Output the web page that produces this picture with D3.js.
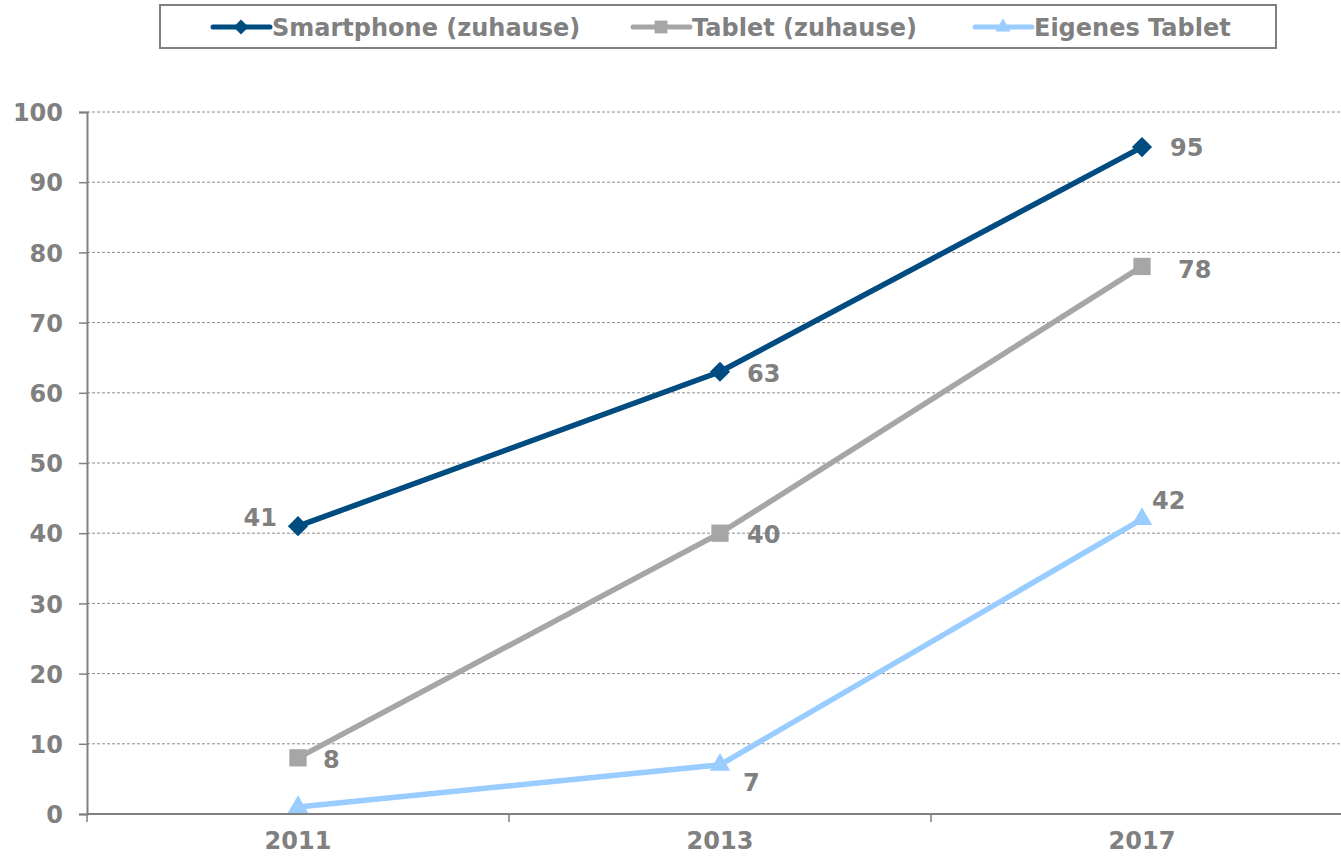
<!DOCTYPE html>
<html>
<head>
<meta charset="utf-8">
<script src="https://cdn.jsdelivr.net/npm/d3@7"></script>
<style>
  body { margin: 0; background: #fff; }
  svg { display: block; font-family: "DejaVu Sans", Verdana, sans-serif; font-weight: bold; }
</style>
</head>
<body>
<div id="chart"></div>
<script>
const years = ["2011", "2013", "2017"];
const smartphone = [41, 63, 95];
const tablet = [8, 40, 78];
const ownTablet = [1, 7, 42];
const yTicks = [0, 10, 20, 30, 40, 50, 60, 70, 80, 90, 100];
const seriesNames = ["Smartphone (zuhause)", "Tablet (zuhause)", "Eigenes Tablet"];

// which point labels are shown (the 2011 value of "Eigenes Tablet" has none)
const showLabel = [[true, true, true], [true, true, true], [false, true, true]];
// label offsets from the point [dx, dy, anchor]
const labelOffsets = [
    [[-21, 0, "end"], [27, 10, "start"], [28, 9, "start"]],
    [[25, 10, "start"], [27, 10, "start"], [36, 12, "start"]],
    [[0, 0, "start"], [23, 26, "start"], [10, -10, "start"]]
];

const width = 1341;
const height = 858;
const grey = "#808080";
const fontSize = "24px";

const series = [
    { name: seriesNames[0], values: smartphone, color: "#004B7F", symbol: d3.symbolDiamond2, size: 260, legendX: 213 },
    { name: seriesNames[1], values: tablet, color: "#A6A6A6", symbol: d3.symbolSquare2, size: 380, legendX: 633 },
    { name: seriesNames[2], values: ownTablet, color: "#99CCFF", symbol: d3.symbolTriangle2, size: 300, legendX: 975 }
];

const svg = d3.select("#chart")
    .append("svg")
    .attr("width", width)
    .attr("height", height);

const x = d3.scaleBand()
    .domain(years)
    .range([87, 1353]);

const y = d3.scaleLinear()
    .domain([0, 100])
    .range([814, 112]);

// gridlines
svg.append("g")
    .selectAll("line")
    .data(yTicks.filter(d => d > 0))
    .join("line")
    .attr("x1", 87)
    .attr("x2", width)
    .attr("y1", d => y(d))
    .attr("y2", d => y(d))
    .attr("stroke", "#8c8c8c")
    .attr("stroke-width", 1)
    .attr("stroke-dasharray", "3,2");

// y axis
const yAxis = svg.append("g")
    .attr("transform", "translate(87,0)")
    .call(d3.axisLeft(y).tickValues(yTicks).tickSize(8).tickPadding(16));
yAxis.select(".domain").attr("stroke", grey).attr("stroke-width", 2);
yAxis.selectAll(".tick line").attr("stroke", grey).attr("stroke-width", 1.5);
yAxis.selectAll(".tick text")
    .attr("fill", grey)
    .attr("font-size", fontSize)
    .attr("font-family", "DejaVu Sans")
    .attr("font-weight", "bold")
    .attr("dy", "0.36em");

// x axis
const xAxis = svg.append("g")
    .attr("transform", `translate(0,${y(0)})`)
    .call(d3.axisBottom(x).tickSize(0).tickPadding(17));
xAxis.select(".domain").remove();
xAxis.append("line")
    .attr("x1", 87)
    .attr("x2", width)
    .attr("stroke", grey)
    .attr("stroke-width", 2);
xAxis.selectAll(".tick text")
    .attr("fill", grey)
    .attr("font-size", fontSize)
    .attr("font-family", "DejaVu Sans")
    .attr("font-weight", "bold")
    .attr("dy", "0.75em");
// tick marks at band boundaries
xAxis.selectAll(".bound")
    .data(years)
    .join("line")
    .attr("class", "bound")
    .attr("x1", d => x(d))
    .attr("x2", d => x(d))
    .attr("y1", 0)
    .attr("y2", 8)
    .attr("stroke", grey)
    .attr("stroke-width", 1.5);

const cx = (d, i) => x(years[i]) + x.bandwidth() / 2;

const line = d3.line()
    .x(cx)
    .y(d => y(d));

series.forEach((s, si) => {
    const g = svg.append("g");
    g.append("path")
        .datum(s.values)
        .attr("d", line)
        .attr("fill", "none")
        .attr("stroke", s.color)
        .attr("stroke-width", 5.5);

    g.selectAll(".marker")
        .data(s.values)
        .join("path")
        .attr("class", "marker")
        .attr("d", d3.symbol().type(s.symbol).size(s.size))
        .attr("transform", (d, i) => `translate(${cx(d, i)},${y(d)})`)
        .attr("fill", s.color);

    const pts = s.values.map((v, i) => ({ v, i })).filter(p => showLabel[si][p.i]);
    g.selectAll(".value")
        .data(pts)
        .join("text")
        .attr("class", "value")
        .attr("x", p => cx(p.v, p.i) + labelOffsets[si][p.i][0])
        .attr("y", p => y(p.v) + labelOffsets[si][p.i][1])
        .attr("text-anchor", p => labelOffsets[si][p.i][2])
        .attr("font-size", fontSize)
        .attr("fill", grey)
        .text(p => p.v);
});

// legend
const legend = svg.append("g");
legend.append("rect")
    .attr("x", 160)
    .attr("y", 5)
    .attr("width", 1116)
    .attr("height", 43)
    .attr("fill", "#fff")
    .attr("stroke", grey)
    .attr("stroke-width", 2);

series.forEach(s => {
    const lg = legend.append("g").attr("transform", `translate(${s.legendX},27)`);
    lg.append("line")
        .attr("x1", 0)
        .attr("x2", 57)
        .attr("stroke", s.color)
        .attr("stroke-width", 5)
        .attr("stroke-linecap", "round");
    lg.append("path")
        .attr("d", d3.symbol().type(s.symbol).size(s.size * 0.55))
        .attr("transform", "translate(28,0)")
        .attr("fill", s.color);
    lg.append("text")
        .attr("x", 59)
        .attr("dy", "0.36em")
        .attr("font-size", fontSize)
        .attr("fill", grey)
        .text(s.name);
});
</script>
</body>
</html>
